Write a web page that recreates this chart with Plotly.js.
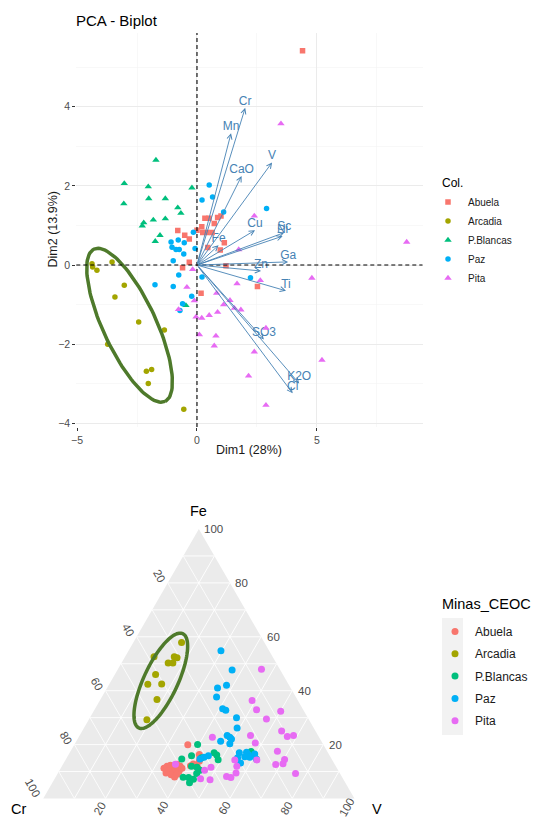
<!DOCTYPE html>
<html><head><meta charset="utf-8">
<script src="https://cdn.plot.ly/plotly-3.0.1.min.js"></script>
<style>html,body{margin:0;padding:0;background:#fff}#chart{width:537px;height:818px}</style>
</head><body><div id="chart"></div>
<script>
// ---------- data ----------
const groups = ['Abuela','Arcadia','P.Blancas','Paz','Pita'];
const groupColors = ['#F8766D','#A3A500','#00BF7D','#00B0F6','#E76BF3'];
const biplotSymbols = ['square','circle','triangle-up','circle','triangle-up'];

// PCA individuals (Dim1, Dim2)
const abuelaDim1 = [4.40,0.86,1.00,0.50,0.33,0.72,0.20,0.00,0.24,0.42,0.63,-0.80,-0.32,-0.51,1.14,0.97,0.45,-0.32,-0.60,1.21,0.17,2.52];
const abuelaDim2 = [5.41,1.20,1.24,1.18,1.18,1.05,0.97,0.88,0.82,0.82,0.82,0.87,0.66,0.75,0.56,0.38,0.44,0.07,-0.07,-0.02,-0.71,-0.54];
const arcadiaDim1 = [-4.375,-4.35,-4.17,-3.54,-3.03,-3.42,-2.43,-1.36,-3.72,-2.11,-1.89,-2.03,-0.55];
const arcadiaDim2 = [0.03,-0.05,-0.13,0.08,-0.51,-0.81,-1.44,-1.64,-2.00,-2.68,-2.64,-2.99,-3.64];
const blancasDim1 = [-1.71,-3.03,-2.03,-3.05,-2.01,-1.32,-0.80,-0.67,-0.21,-2.22,-2.28,-1.82,-1.32,-1.54,-1.74,-0.46];
const blancasDim2 = [2.65,2.06,1.98,1.55,1.68,1.68,1.45,1.31,1.95,1.07,0.99,1.14,1.17,0.75,0.60,-1.02];
const pazDim1 = [0.51,0.21,0.65,1.11,2.90,-0.15,-1.08,-1.04,-0.78,-0.53,-0.875,-0.74,-0.55,-0.08,-0.99,-0.76,-1.75,-0.99,-0.22,-0.60,-0.71,0.21,2.23];
const pazDim2 = [2.02,1.64,1.72,1.34,1.43,0.83,0.58,0.45,0.63,0.56,0.39,0.39,0.28,0.42,0.11,-0.25,-0.50,-0.54,-0.79,-0.98,-1.15,-0.30,-0.32];
const pitaDim1 = [-0.18,-0.42,-0.11,0.10,-0.04,0.20,0.51,0.86,0.82,1.11,1.375,1.56,1.83,1.67,2.64,1.74,0.79,0.72,2.875,2.39,2.15,2.875,4.79,5.21,3.50,2.39,8.74,-0.77];
const pitaDim2 = [-0.11,-0.56,-0.90,-1.76,-1.31,-1.34,-1.27,-1.19,-0.71,-1.00,-0.89,-1.09,-1.13,-0.47,-0.39,0.39,-1.79,-2.04,-1.59,-2.19,-2.80,-3.54,-0.33,-2.40,3.57,1.24,0.58,-1.12];

// PCA variables (arrows)
const varNames = ['Cr','Mn','CaO','V','Cu','Sc','Ni','Fe','Ga','Zn','Ti','SO3','K2O','Cl'];
const varDim1 = [2.01,1.42,1.86,3.13,2.42,3.64,3.57,0.90,3.80,2.67,3.71,2.79,4.26,3.99];
const varDim2 = [3.97,3.33,2.25,2.59,0.88,0.82,0.73,0.50,0.08,-0.15,-0.65,-1.88,-2.99,-3.24];

// Ternary composition (Fe, Cr, V in %)
const abuelaFe = [19.9,16.3,15.1,11.2,12.0,12.3,11.8,12.7,12.1,11.2,10.1,10.3,9.9,10.3,8.8,8.0,9.0,12.1,12.8,12.1,13.8,11.2,9.5];
const abuelaCr = [43.6,41.7,42.1,55.6,54.2,52.9,52.1,50.7,50.0,49.8,51.3,52.4,53.7,54.6,54.5,53.8,52.5,46.6,45.4,44.6,42.9,44.7,55.8];
const abuelaV  = [36.5,42.0,42.8,33.2,33.8,34.7,36.1,36.6,37.9,39.0,38.6,37.4,36.4,35.1,36.7,38.2,38.5,41.2,41.8,43.2,43.2,44.1,34.7];
const arcadiaFe = [57.9,52.6,52.6,52.2,50.3,50.3,46.0,42.4,42.5,36.7,29.2];
const arcadiaCr = [26.6,38.1,31.6,30.9,34.7,33.2,40.9,45.2,40.7,45.1,52.1];
const arcadiaV  = [15.5,9.3,15.8,16.9,15.0,16.5,13.1,12.4,16.8,18.2,18.7];
const blancasFe = [20.0,14.7,15.9,12.0,11.6,10.5,9.3,7.9,7.8,7.1,5.8,17.0,16.1,14.4,17.5,15.1];
const blancasCr = [40.4,48.2,44.4,46.4,44.8,44.4,46.0,51.1,49.4,48.2,50.1,36.6,36.2,36.6,24.5,41.6];
const blancasV  = [39.6,37.2,39.7,41.7,43.6,45.1,44.6,41.0,42.8,44.7,44.1,46.4,47.7,49.0,58.1,43.3];
const pazFe = [54.8,47.7,42.1,41.0,37.7,33.3,32.7,30.0,26.2,23.4,22.7,22.1,21.2,20.3,15.9,15.3,14.7,17.0,15.1,17.1,16.3,15.3,15.5,16.5,14.7,13.2];
const pazCr = [15.5,15.5,20.1,23.5,25.5,25.7,25.0,22.9,24.6,29.2,28.7,28.5,32.4,29.9,39.0,40.7,42.3,28.5,30.0,26.1,26.0,26.0,27.5,23.8,24.2,30.0];
const pazV  = [29.7,36.9,37.9,35.5,36.9,41.0,42.3,47.1,49.2,47.4,48.6,49.5,46.4,49.8,45.1,44.0,43.0,54.5,54.9,56.7,57.7,58.8,57.0,59.7,61.2,56.8];
const pitaFe = [47.9,36.3,32.9,29.5,32.4,25.0,23.0,23.4,23.4,20.6,22.7,17.5,14.5,12.9,12.6,9.3,14.3,14.3,12.0,9.5,8.2,7.8,11.6,10.5,7.3,7.0,12.7];
const pitaCr = [5.9,14.7,15.0,13.5,7.5,10.9,10.1,7.9,21.7,21.6,34.3,16.0,15.2,16.5,19.0,14.3,24.2,31.3,31.8,33.3,37.0,35.8,40.3,42.9,45.8,42.9,51.1];
const pitaV  = [46.1,48.9,52.1,56.9,60.1,64.1,67.0,68.8,54.9,57.9,43.0,66.5,70.3,70.6,68.4,76.5,61.4,54.4,56.2,57.2,54.8,56.4,48.1,46.6,46.9,50.1,36.1];

const ternGridVals = [10,20,30,40,50,60,70,80,90];
const ternTickLabels = [20,40,60,80,100];

// ---------- layout geometry ----------
const W = 537, H = 818;
const FONT = 'Liberation Sans, Arial, sans-serif';
const xRange = [-5.03, 9.40], yRange = [-4.09, 5.86];
const panel = {l: 76.3, r: 422.5, t: 33, b: 427};
const tern = {l: 42.5, r: 355.2, t: 529, b: 798.5};
const ellipseGreen = '#4E7A2B';

const bipDim1 = [abuelaDim1, arcadiaDim1, blancasDim1, pazDim1, pitaDim1];
const bipDim2 = [abuelaDim2, arcadiaDim2, blancasDim2, pazDim2, pitaDim2];
const ternFe = [abuelaFe, arcadiaFe, blancasFe, pazFe, pitaFe];
const ternCr = [abuelaCr, arcadiaCr, blancasCr, pazCr, pitaCr];
const ternV  = [abuelaV, arcadiaV, blancasV, pazV, pitaV];
const bipSizes = [5.5, 5.5, 6.5, 5.5, 6.5];

const traces = [];
// variable labels (under the points, as in the reference)
traces.push({
  type: 'scatter', mode: 'text', x: varDim1, y: varDim2, text: varNames,
  textposition: 'top center', textfont: {family: FONT, size: 12, color: '#4682B4'},
  showlegend: false, hoverinfo: 'skip', cliponaxis: false
});
groups.forEach((g, i) => {
  traces.push({
    type: 'scatter', mode: 'markers', x: bipDim1[i], y: bipDim2[i], name: g,
    marker: {color: groupColors[i], symbol: biplotSymbols[i], size: bipSizes[i], line: {width: 0}},
    xaxis: 'x', yaxis: 'y', legend: 'legend', legendgroup: 'b' + i, hoverinfo: 'skip'
  });
});

// biplot ellipse (shape geometry, pixel based semi-axes)
(function () {
  const sx = (panel.r - panel.l) / (xRange[1] - xRange[0]);
  const sy = (panel.b - panel.t) / (yRange[1] - yRange[0]);
  const cx = -2.81, cy = -1.52, a = 84, b = 26.5, th = 65 * Math.PI / 180;
  const ex = [], ey = [];
  for (let k = 0; k <= 120; k++) {
    const t = 2 * Math.PI * k / 120;
    const dx = a * Math.cos(t) * Math.cos(th) - b * Math.sin(t) * Math.sin(th);
    const dy = a * Math.cos(t) * Math.sin(th) + b * Math.sin(t) * Math.cos(th);
    ex.push(cx + dx / sx); ey.push(cy - dy / sy);
  }
  traces.push({type: 'scatter', mode: 'lines', x: ex, y: ey, line: {color: ellipseGreen, width: 3.5},
    showlegend: false, hoverinfo: 'skip'});
})();

groups.forEach((g, i) => {
  traces.push({
    type: 'scatterternary', mode: 'markers', a: ternFe[i], b: ternCr[i], c: ternV[i], name: g,
    marker: {color: groupColors[i], symbol: 'circle', size: 7, line: {width: 0}},
    subplot: 'ternary', legend: 'legend2', legendgroup: 't' + i, hoverinfo: 'skip'
  });
});

// ternary ellipse as paper path
function ellipsePath(cx, cy, a, b, deg) {
  const th = deg * Math.PI / 180;
  let p = '';
  for (let k = 0; k <= 120; k++) {
    const t = 2 * Math.PI * k / 120;
    const x = cx + a * Math.cos(t) * Math.cos(th) - b * Math.sin(t) * Math.sin(th);
    const y = cy + a * Math.cos(t) * Math.sin(th) + b * Math.sin(t) * Math.cos(th);
    p += (k === 0 ? 'M' : 'L') + (x / W).toFixed(5) + ',' + (1 - y / H).toFixed(5);
  }
  return p + 'Z';
}

const tickFont = {family: FONT, size: 10.5, color: '#4D4D4D'};
const ternAxis = () => ({
  title: {text: ''},
  min: 0, tickmode: 'array', tickvals: ternGridVals, showticklabels: false, ticks: '',
  showgrid: true, gridcolor: '#FFFFFF', gridwidth: 0.8, showline: false
});

const annotations = [
  {text: 'Col.', xref: 'paper', yref: 'paper', x: 440 / W, y: 1 - 183 / H, xanchor: 'left', yanchor: 'middle',
    showarrow: false, font: {family: FONT, size: 12, color: '#000'}},
  {text: 'Minas_CEOC', xref: 'paper', yref: 'paper', x: 440 / W, y: 1 - 604 / H, xanchor: 'left', yanchor: 'middle',
    showarrow: false, font: {family: FONT, size: 14.5, color: '#000'}},
  {text: 'Dim1 (28%)', xref: 'paper', yref: 'paper', x: 249 / W, y: 1 - 450 / H, xanchor: 'center', yanchor: 'middle',
    showarrow: false, font: {family: FONT, size: 12.5, color: '#1a1a1a'}},
  {text: 'Dim2 (13.9%)', xref: 'paper', yref: 'paper', x: 52.5 / W, y: 1 - 230 / H, xanchor: 'center', yanchor: 'middle',
    textangle: -90, showarrow: false, font: {family: FONT, size: 12.5, color: '#1a1a1a'}}
];

// ternary vertices (from the domain) for tick labels and titles
const triH = tern.b - tern.t, triW = triH * 2 / Math.sqrt(3), triC = (tern.l + tern.r) / 2;
const vT = [triC, tern.t], vL = [triC - triW / 2, tern.b], vR = [triC + triW / 2, tern.b];
const lab = (txt, px, py, ang, xa) => ({text: txt, xref: 'paper', yref: 'paper', x: px / W, y: 1 - py / H,
  xanchor: xa || 'center', yanchor: 'middle', textangle: ang || 0, showarrow: false, borderpad: 0,
  font: {family: FONT, size: 11.5, color: '#4D4D4D'}});
ternTickLabels.forEach(v => {
  const f = v / 100;
  // Fe along right edge
  const pr = [vT[0] + (1 - f) * (vR[0] - vT[0]), vT[1] + (1 - f) * (vR[1] - vT[1])];
  annotations.push(lab(String(v), pr[0] + 4.5, pr[1], 0, 'left'));
  // Cr along left edge
  const pl = [vL[0] + (1 - f) * (vT[0] - vL[0]), vL[1] + (1 - f) * (vT[1] - vL[1])];
  const ol = v === 100 ? [-10.5, -10.5] : [-8.3, -7];
  annotations.push(lab(String(v), pl[0] + ol[0], pl[1] + ol[1], 60));
  // V along bottom edge
  const pb = [vL[0] + f * (vR[0] - vL[0]), vL[1]];
  const ob = v === 100 ? [-7.5, 8.5] : [-5.5, 9.5];
  annotations.push(lab(String(v), pb[0] + ob[0], pb[1] + ob[1], -60));
});
const ttl = (txt, px, py) => ({text: txt, xref: 'paper', yref: 'paper', x: px / W, y: 1 - py / H,
  xanchor: 'center', yanchor: 'middle', showarrow: false, borderpad: 0, font: {family: FONT, size: 14.5, color: '#000'}});
annotations.push(ttl('Fe', 198.5, 511), ttl('Cr', 18.5, 809), ttl('V', 376.5, 808.5));

// variable arrows
varNames.forEach((n, i) => {
  annotations.push({
    x: varDim1[i], y: varDim2[i], xref: 'x', yref: 'y', ax: 0, ay: 0, axref: 'x', ayref: 'y',
    text: '', showarrow: true, arrowhead: 5, arrowsize: 1.1, arrowwidth: 0.9, arrowcolor: '#4682B4', standoff: 0
  });
});

const layout = {
  width: W, height: H, margin: {l: 0, r: 0, t: 0, b: 0, pad: 0},
  paper_bgcolor: '#fff', plot_bgcolor: 'rgba(0,0,0,0)',
  font: {family: FONT, color: '#1a1a1a'},
  title: {text: 'PCA - Biplot', x: 76 / W, xanchor: 'left', xref: 'paper',
    y: 1 - 21 / H, yanchor: 'middle', yref: 'paper', font: {family: FONT, size: 15, color: '#000'}},
  xaxis: {domain: [panel.l / W, panel.r / W], range: xRange, anchor: 'y',
    tickmode: 'linear', tick0: 0, dtick: 5, showgrid: true, gridcolor: '#EBEBEB', gridwidth: 1,
    minor: {tickmode: 'linear', tick0: 0, dtick: 2.5, showgrid: true, gridcolor: '#F4F4F4', gridwidth: 0.6, ticks: ''},
    zeroline: false, showline: false, ticks: 'outside', ticklen: 3, tickcolor: '#333', tickfont: tickFont},
  yaxis: {domain: [1 - panel.b / H, 1 - panel.t / H], range: yRange, anchor: 'x',
    tickmode: 'linear', tick0: 0, dtick: 2, showgrid: true, gridcolor: '#EBEBEB', gridwidth: 1,
    minor: {tickmode: 'linear', tick0: 0, dtick: 1, showgrid: true, gridcolor: '#F4F4F4', gridwidth: 0.6, ticks: ''},
    zeroline: false, showline: false, ticks: 'outside', ticklen: 3, tickcolor: '#333', tickfont: tickFont},
  ternary: {
    domain: {x: [tern.l / W, tern.r / W], y: [1 - tern.b / H, 1 - tern.t / H]},
    sum: 100, bgcolor: '#EBEBEB',
    aaxis: ternAxis(), baxis: ternAxis(), caxis: ternAxis()
  },
  legend: {x: 428 / W, xanchor: 'left', y: 1 - 187.5 / H, yanchor: 'top',
    font: {family: FONT, size: 10, color: '#1a1a1a'}, bgcolor: 'rgba(0,0,0,0)', tracegroupgap: 0},
  legend2: {x: 435 / W, xanchor: 'left', y: 1 - 617 / H, yanchor: 'top',
    font: {family: FONT, size: 12, color: '#1a1a1a'}, bgcolor: 'rgba(0,0,0,0)', tracegroupgap: 3.3},
  shapes: [
    {type: 'line', xref: 'x', yref: 'y domain', x0: 0, x1: 0, y0: 0, y1: 1,
      line: {color: '#000', width: 1.1, dash: '4px,3px'}},
    {type: 'line', xref: 'x domain', yref: 'y', x0: 0, x1: 1, y0: 0, y1: 0,
      line: {color: '#000', width: 1.1, dash: '4px,3px'}},
    {type: 'rect', xref: 'paper', yref: 'paper', x0: 442 / W, x1: 463 / W, y0: 1 - 735 / H, y1: 1 - 618 / H,
      fillcolor: '#F2F2F2', line: {width: 0}, layer: 'below'},
    {type: 'path', xref: 'paper', yref: 'paper', path: ellipsePath(160.8, 680.8, 52, 17, -65),
      line: {color: ellipseGreen, width: 3.5}, fillcolor: 'rgba(0,0,0,0)', layer: 'above'}
  ],
  annotations: annotations
};

Plotly.newPlot('chart', traces, layout, {staticPlot: true, displayModeBar: false});
</script></body></html>
